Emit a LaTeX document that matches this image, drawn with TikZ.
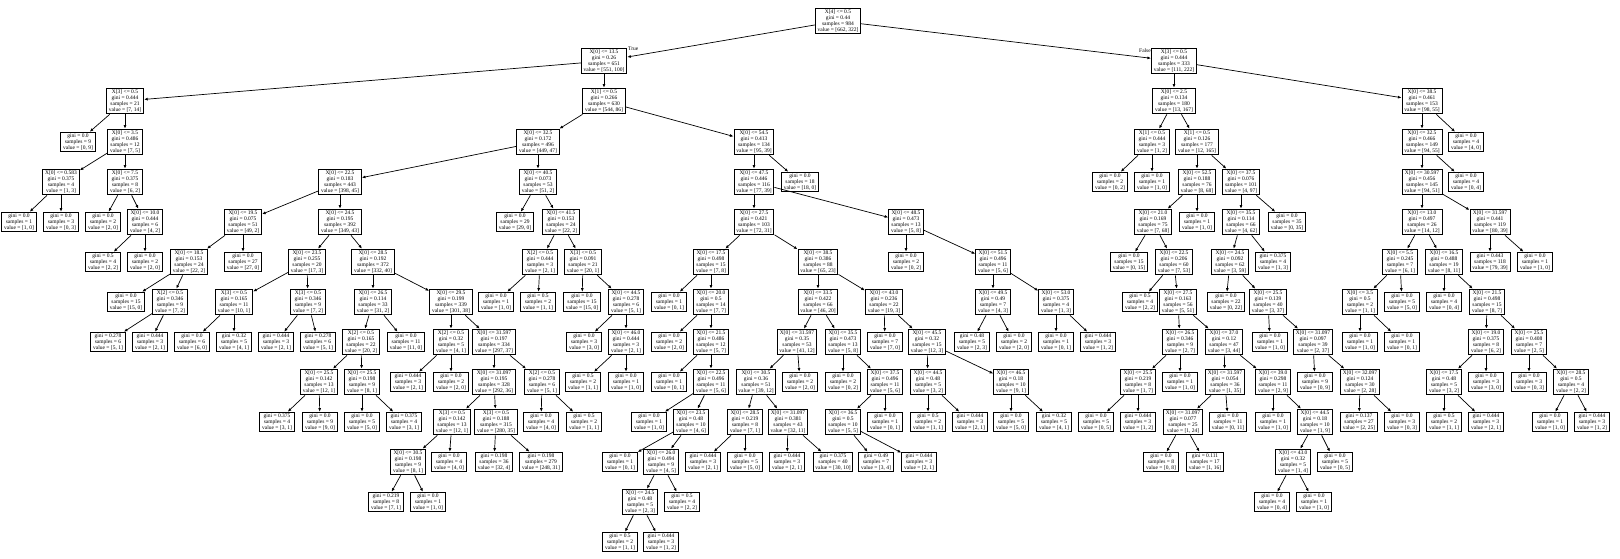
\documentclass[tikz,border=0pt]{standalone}
\usepackage{fontspec}
\setmainfont{Liberation Serif}
\usetikzlibrary{arrows.meta}

\begin{document}
\begin{tikzpicture}[x=1pt,y=-1pt]

\tikzstyle{split} = [rectangle, draw=black, line width=1pt, align=center, font=\fontsize{5.5}{6}\selectfont, inner xsep=2.4pt, inner ysep=1.5pt]
\tikzstyle{leaf} = [split]
\tikzstyle{e} = [-{Latex[length=3.6pt,width=3pt]}, line width=0.7pt]
\tikzstyle{lbl} = [font=\fontsize{5.5}{6}\selectfont, inner sep=0pt]

\useasboundingbox (0,0) rectangle (1620,558);

\node[split](n0)at(838,21){X[4] <= 0.5\\gini = 0.44\\samples = 984\\value = [662, 322]};
\node[split](n1)at(604,61){X[0] <= 13.5\\gini = 0.26\\samples = 651\\value = [551, 100]};
\node[split](n2)at(125,101){X[3] <= 0.5\\gini = 0.444\\samples = 21\\value = [7, 14]};
\node[leaf](n3)at(78,142){gini = 0.0\\samples = 9\\value = [0, 9]};
\node[split](n4)at(125,142){X[0] <= 3.5\\gini = 0.486\\samples = 12\\value = [7, 5]};
\node[split](n5)at(61,182){X[0] <= 0.583\\gini = 0.375\\samples = 4\\value = [1, 3]};
\node[leaf](n6)at(19,222){gini = 0.0\\samples = 1\\value = [1, 0]};
\node[leaf](n7)at(61,222){gini = 0.0\\samples = 3\\value = [0, 3]};
\node[split](n8)at(125,182){X[0] <= 7.5\\gini = 0.375\\samples = 8\\value = [6, 2]};
\node[leaf](n9)at(103,222){gini = 0.0\\samples = 2\\value = [2, 0]};
\node[split](n10)at(145,222){X[0] <= 10.0\\gini = 0.444\\samples = 6\\value = [4, 2]};
\node[leaf](n11)at(103,262){gini = 0.5\\samples = 4\\value = [2, 2]};
\node[leaf](n12)at(145,262){gini = 0.0\\samples = 2\\value = [2, 0]};
\node[split](n13)at(604,101){X[1] <= 0.5\\gini = 0.266\\samples = 630\\value = [544, 86]};
\node[split](n14)at(538,142){X[0] <= 32.5\\gini = 0.172\\samples = 496\\value = [449, 47]};
\node[split](n15)at(340,182){X[0] <= 22.5\\gini = 0.183\\samples = 443\\value = [398, 45]};
\node[split](n16)at(243,222){X[0] <= 19.5\\gini = 0.075\\samples = 51\\value = [49, 2]};
\node[split](n17)at(189,262){X[0] <= 18.5\\gini = 0.153\\samples = 24\\value = [22, 2]};
\node[leaf](n18)at(126,302){gini = 0.0\\samples = 15\\value = [15, 0]};
\node[split](n19)at(170,302){X[2] <= 0.5\\gini = 0.346\\samples = 9\\value = [7, 2]};
\node[leaf](n20)at(108,342){gini = 0.278\\samples = 6\\value = [5, 1]};
\node[leaf](n21)at(150,342){gini = 0.444\\samples = 3\\value = [2, 1]};
\node[leaf](n22)at(243,262){gini = 0.0\\samples = 27\\value = [27, 0]};
\node[split](n23)at(340,222){X[0] <= 24.5\\gini = 0.195\\samples = 392\\value = [349, 43]};
\node[split](n24)at(307,262){X[0] <= 23.5\\gini = 0.255\\samples = 20\\value = [17, 3]};
\node[split](n25)at(234,302){X[3] <= 0.5\\gini = 0.165\\samples = 11\\value = [10, 1]};
\node[leaf](n26)at(192,342){gini = 0.0\\samples = 6\\value = [6, 0]};
\node[leaf](n27)at(234,342){gini = 0.32\\samples = 5\\value = [4, 1]};
\node[split](n28)at(308,302){X[3] <= 0.5\\gini = 0.346\\samples = 9\\value = [7, 2]};
\node[leaf](n29)at(276,342){gini = 0.444\\samples = 3\\value = [2, 1]};
\node[leaf](n30)at(318,342){gini = 0.278\\samples = 6\\value = [5, 1]};
\node[split](n31)at(373,262){X[0] <= 28.5\\gini = 0.192\\samples = 372\\value = [332, 40]};
\node[split](n32)at(373,302){X[0] <= 26.5\\gini = 0.114\\samples = 33\\value = [31, 2]};
\node[split](n33)at(361,342){X[2] <= 0.5\\gini = 0.165\\samples = 22\\value = [20, 2]};
\node[split](n34)at(319,382){X[0] <= 25.5\\gini = 0.142\\samples = 13\\value = [12, 1]};
\node[leaf](n35)at(277,422){gini = 0.375\\samples = 4\\value = [3, 1]};
\node[leaf](n36)at(320,422){gini = 0.0\\samples = 9\\value = [9, 0]};
\node[split](n37)at(362,382){X[0] <= 25.5\\gini = 0.198\\samples = 9\\value = [8, 1]};
\node[leaf](n38)at(362,422){gini = 0.0\\samples = 5\\value = [5, 0]};
\node[leaf](n39)at(404,422){gini = 0.375\\samples = 4\\value = [3, 1]};
\node[leaf](n40)at(406,342){gini = 0.0\\samples = 11\\value = [11, 0]};
\node[split](n41)at(451,302){X[0] <= 29.5\\gini = 0.199\\samples = 339\\value = [301, 38]};
\node[split](n42)at(451,342){X[2] <= 0.5\\gini = 0.32\\samples = 5\\value = [4, 1]};
\node[leaf](n43)at(408,382){gini = 0.444\\samples = 3\\value = [2, 1]};
\node[leaf](n44)at(451,382){gini = 0.0\\samples = 2\\value = [2, 0]};
\node[split](n45)at(494,342){X[0] <= 31.597\\gini = 0.197\\samples = 334\\value = [297, 37]};
\node[split](n46)at(494,382){X[0] <= 31.097\\gini = 0.195\\samples = 328\\value = [292, 36]};
\node[split](n47)at(452,422){X[3] <= 0.5\\gini = 0.142\\samples = 13\\value = [12, 1]};
\node[split](n48)at(408,462){X[0] <= 30.5\\gini = 0.198\\samples = 9\\value = [8, 1]};
\node[leaf](n49)at(386,502){gini = 0.219\\samples = 8\\value = [7, 1]};
\node[leaf](n50)at(428,502){gini = 0.0\\samples = 1\\value = [1, 0]};
\node[leaf](n51)at(449,462){gini = 0.0\\samples = 4\\value = [4, 0]};
\node[split](n52)at(496,422){X[3] <= 0.5\\gini = 0.188\\samples = 315\\value = [280, 35]};
\node[leaf](n53)at(494,462){gini = 0.198\\samples = 36\\value = [32, 4]};
\node[leaf](n54)at(541,462){gini = 0.198\\samples = 279\\value = [248, 31]};
\node[split](n55)at(542,382){X[2] <= 0.5\\gini = 0.278\\samples = 6\\value = [5, 1]};
\node[leaf](n56)at(541,422){gini = 0.0\\samples = 4\\value = [4, 0]};
\node[leaf](n57)at(584,422){gini = 0.5\\samples = 2\\value = [1, 1]};
\node[split](n58)at(538,182){X[0] <= 40.5\\gini = 0.073\\samples = 53\\value = [51, 2]};
\node[leaf](n59)at(515,222){gini = 0.0\\samples = 29\\value = [29, 0]};
\node[split](n60)at(561,222){X[0] <= 41.5\\gini = 0.153\\samples = 24\\value = [22, 2]};
\node[split](n61)at(540,262){X[2] <= 0.5\\gini = 0.444\\samples = 3\\value = [2, 1]};
\node[leaf](n62)at(496,302){gini = 0.0\\samples = 1\\value = [1, 0]};
\node[leaf](n63)at(538,302){gini = 0.5\\samples = 2\\value = [1, 1]};
\node[split](n64)at(583,262){X[3] <= 0.5\\gini = 0.091\\samples = 21\\value = [20, 1]};
\node[leaf](n65)at(582,302){gini = 0.0\\samples = 15\\value = [15, 0]};
\node[split](n66)at(626,302){X[0] <= 44.5\\gini = 0.278\\samples = 6\\value = [5, 1]};
\node[leaf](n67)at(584,342){gini = 0.0\\samples = 3\\value = [3, 0]};
\node[split](n68)at(626,342){X[0] <= 46.0\\gini = 0.444\\samples = 3\\value = [2, 1]};
\node[leaf](n69)at(583,382){gini = 0.5\\samples = 2\\value = [1, 1]};
\node[leaf](n70)at(626,382){gini = 0.0\\samples = 1\\value = [1, 0]};
\node[split](n71)at(754,142){X[0] <= 54.5\\gini = 0.413\\samples = 134\\value = [95, 39]};
\node[split](n72)at(754,182){X[0] <= 47.5\\gini = 0.446\\samples = 116\\value = [77, 39]};
\node[split](n73)at(754,222){X[0] <= 27.5\\gini = 0.421\\samples = 103\\value = [72, 31]};
\node[split](n74)at(711,262){X[0] <= 17.5\\gini = 0.498\\samples = 15\\value = [7, 8]};
\node[leaf](n75)at(669,302){gini = 0.0\\samples = 1\\value = [0, 1]};
\node[split](n76)at(711,302){X[0] <= 20.0\\gini = 0.5\\samples = 14\\value = [7, 7]};
\node[leaf](n77)at(669,342){gini = 0.0\\samples = 2\\value = [2, 0]};
\node[split](n78)at(711,342){X[0] <= 21.5\\gini = 0.486\\samples = 12\\value = [5, 7]};
\node[leaf](n79)at(669,382){gini = 0.0\\samples = 1\\value = [0, 1]};
\node[split](n80)at(711,382){X[0] <= 22.5\\gini = 0.496\\samples = 11\\value = [5, 6]};
\node[leaf](n81)at(649,422){gini = 0.0\\samples = 1\\value = [1, 0]};
\node[split](n82)at(691,422){X[0] <= 23.5\\gini = 0.48\\samples = 10\\value = [4, 6]};
\node[leaf](n83)at(620,462){gini = 0.0\\samples = 1\\value = [0, 1]};
\node[split](n84)at(661,462){X[0] <= 26.0\\gini = 0.494\\samples = 9\\value = [4, 5]};
\node[split](n85)at(640,502){X[0] <= 24.5\\gini = 0.48\\samples = 5\\value = [2, 3]};
\node[leaf](n86)at(620,542){gini = 0.5\\samples = 2\\value = [1, 1]};
\node[leaf](n87)at(661,542){gini = 0.444\\samples = 3\\value = [1, 2]};
\node[leaf](n88)at(682,502){gini = 0.5\\samples = 4\\value = [2, 2]};
\node[split](n89)at(818,262){X[0] <= 38.5\\gini = 0.386\\samples = 88\\value = [65, 23]};
\node[split](n90)at(818,302){X[0] <= 33.5\\gini = 0.422\\samples = 66\\value = [46, 20]};
\node[split](n91)at(797,342){X[0] <= 31.597\\gini = 0.35\\samples = 53\\value = [41, 12]};
\node[split](n92)at(756,382){X[0] <= 30.5\\gini = 0.36\\samples = 51\\value = [39, 12]};
\node[split](n93)at(745,422){X[0] <= 28.5\\gini = 0.219\\samples = 8\\value = [7, 1]};
\node[leaf](n94)at(703,462){gini = 0.444\\samples = 3\\value = [2, 1]};
\node[leaf](n95)at(745,462){gini = 0.0\\samples = 5\\value = [5, 0]};
\node[split](n96)at(788,422){X[0] <= 31.097\\gini = 0.381\\samples = 43\\value = [32, 11]};
\node[leaf](n97)at(787,462){gini = 0.444\\samples = 3\\value = [2, 1]};
\node[leaf](n98)at(833,462){gini = 0.375\\samples = 40\\value = [30, 10]};
\node[leaf](n99)at(800,382){gini = 0.0\\samples = 2\\value = [2, 0]};
\node[split](n100)at(843,342){X[0] <= 35.5\\gini = 0.473\\samples = 13\\value = [5, 8]};
\node[leaf](n101)at(843,382){gini = 0.0\\samples = 2\\value = [0, 2]};
\node[split](n102)at(885,382){X[0] <= 37.5\\gini = 0.496\\samples = 11\\value = [5, 6]};
\node[split](n103)at(843,422){X[0] <= 36.5\\gini = 0.5\\samples = 10\\value = [5, 5]};
\node[leaf](n104)at(876,462){gini = 0.49\\samples = 7\\value = [3, 4]};
\node[leaf](n105)at(919,462){gini = 0.444\\samples = 3\\value = [2, 1]};
\node[leaf](n106)at(885,422){gini = 0.0\\samples = 1\\value = [0, 1]};
\node[split](n107)at(884,302){X[0] <= 43.0\\gini = 0.236\\samples = 22\\value = [19, 3]};
\node[leaf](n108)at(885,342){gini = 0.0\\samples = 7\\value = [7, 0]};
\node[split](n109)at(927,342){X[0] <= 45.5\\gini = 0.32\\samples = 15\\value = [12, 3]};
\node[split](n110)at(928,382){X[0] <= 44.5\\gini = 0.48\\samples = 5\\value = [3, 2]};
\node[leaf](n111)at(928,422){gini = 0.5\\samples = 2\\value = [1, 1]};
\node[leaf](n112)at(970,422){gini = 0.444\\samples = 3\\value = [2, 1]};
\node[split](n113)at(1011,382){X[0] <= 46.5\\gini = 0.18\\samples = 10\\value = [9, 1]};
\node[leaf](n114)at(1011,422){gini = 0.0\\samples = 5\\value = [5, 0]};
\node[leaf](n115)at(1054,422){gini = 0.32\\samples = 5\\value = [4, 1]};
\node[split](n116)at(906,222){X[0] <= 48.5\\gini = 0.473\\samples = 13\\value = [5, 8]};
\node[leaf](n117)at(906,262){gini = 0.0\\samples = 2\\value = [0, 2]};
\node[split](n118)at(993,262){X[0] <= 51.5\\gini = 0.496\\samples = 11\\value = [5, 6]};
\node[split](n119)at(993,302){X[0] <= 49.5\\gini = 0.49\\samples = 7\\value = [4, 3]};
\node[leaf](n120)at(972,342){gini = 0.48\\samples = 5\\value = [2, 3]};
\node[leaf](n121)at(1014,342){gini = 0.0\\samples = 2\\value = [2, 0]};
\node[split](n122)at(1056,302){X[0] <= 53.0\\gini = 0.375\\samples = 4\\value = [1, 3]};
\node[leaf](n123)at(1056,342){gini = 0.0\\samples = 1\\value = [0, 1]};
\node[leaf](n124)at(1098,342){gini = 0.444\\samples = 3\\value = [1, 2]};
\node[leaf](n125)at(800,182){gini = 0.0\\samples = 18\\value = [18, 0]};
\node[split](n126)at(1174,61){X[3] <= 0.5\\gini = 0.444\\samples = 333\\value = [111, 222]};
\node[split](n127)at(1174,101){X[0] <= 2.5\\gini = 0.134\\samples = 180\\value = [13, 167]};
\node[split](n128)at(1152,142){X[1] <= 0.5\\gini = 0.444\\samples = 3\\value = [1, 2]};
\node[leaf](n129)at(1110,182){gini = 0.0\\samples = 2\\value = [0, 2]};
\node[leaf](n130)at(1152,182){gini = 0.0\\samples = 1\\value = [1, 0]};
\node[split](n131)at(1197,142){X[1] <= 0.5\\gini = 0.126\\samples = 177\\value = [12, 165]};
\node[split](n132)at(1197,182){X[0] <= 52.5\\gini = 0.188\\samples = 76\\value = [8, 68]};
\node[split](n133)at(1153,222){X[0] <= 21.0\\gini = 0.169\\samples = 75\\value = [7, 68]};
\node[leaf](n134)at(1129,262){gini = 0.0\\samples = 15\\value = [0, 15]};
\node[split](n135)at(1174,262){X[0] <= 22.5\\gini = 0.206\\samples = 60\\value = [7, 53]};
\node[leaf](n136)at(1140,302){gini = 0.5\\samples = 4\\value = [2, 2]};
\node[split](n137)at(1178,302){X[0] <= 27.5\\gini = 0.163\\samples = 56\\value = [5, 51]};
\node[split](n138)at(1180,342){X[0] <= 26.5\\gini = 0.346\\samples = 9\\value = [2, 7]};
\node[split](n139)at(1138,382){X[0] <= 25.5\\gini = 0.219\\samples = 8\\value = [1, 7]};
\node[leaf](n140)at(1096,422){gini = 0.0\\samples = 5\\value = [0, 5]};
\node[leaf](n141)at(1138,422){gini = 0.444\\samples = 3\\value = [1, 2]};
\node[leaf](n142)at(1180,382){gini = 0.0\\samples = 1\\value = [1, 0]};
\node[split](n143)at(1224,342){X[0] <= 37.0\\gini = 0.12\\samples = 47\\value = [3, 44]};
\node[split](n144)at(1225,382){X[0] <= 31.597\\gini = 0.054\\samples = 36\\value = [1, 35]};
\node[split](n145)at(1183,422){X[0] <= 31.097\\gini = 0.077\\samples = 25\\value = [1, 24]};
\node[leaf](n146)at(1161,462){gini = 0.0\\samples = 8\\value = [0, 8]};
\node[leaf](n147)at(1205,462){gini = 0.111\\samples = 17\\value = [1, 16]};
\node[leaf](n148)at(1228,422){gini = 0.0\\samples = 11\\value = [0, 11]};
\node[split](n149)at(1273,382){X[0] <= 39.0\\gini = 0.298\\samples = 11\\value = [2, 9]};
\node[leaf](n150)at(1273,422){gini = 0.0\\samples = 1\\value = [1, 0]};
\node[split](n151)at(1315,422){X[0] <= 44.5\\gini = 0.18\\samples = 10\\value = [1, 9]};
\node[split](n152)at(1293,462){X[0] <= 43.0\\gini = 0.32\\samples = 5\\value = [1, 4]};
\node[leaf](n153)at(1272,502){gini = 0.0\\samples = 4\\value = [0, 4]};
\node[leaf](n154)at(1314,502){gini = 0.0\\samples = 1\\value = [1, 0]};
\node[leaf](n155)at(1335,462){gini = 0.0\\samples = 5\\value = [0, 5]};
\node[leaf](n156)at(1197,222){gini = 0.0\\samples = 1\\value = [1, 0]};
\node[split](n157)at(1241,182){X[0] <= 37.5\\gini = 0.076\\samples = 101\\value = [4, 97]};
\node[split](n158)at(1241,222){X[0] <= 35.5\\gini = 0.114\\samples = 66\\value = [4, 62]};
\node[split](n159)at(1230,262){X[0] <= 24.5\\gini = 0.092\\samples = 62\\value = [3, 59]};
\node[leaf](n160)at(1226,302){gini = 0.0\\samples = 22\\value = [0, 22]};
\node[split](n161)at(1268,302){X[0] <= 25.5\\gini = 0.139\\samples = 40\\value = [3, 37]};
\node[leaf](n162)at(1270,342){gini = 0.0\\samples = 1\\value = [1, 0]};
\node[split](n163)at(1313,342){X[0] <= 31.097\\gini = 0.097\\samples = 39\\value = [2, 37]};
\node[leaf](n164)at(1315,382){gini = 0.0\\samples = 9\\value = [0, 9]};
\node[split](n165)at(1360,382){X[0] <= 32.097\\gini = 0.124\\samples = 30\\value = [2, 28]};
\node[leaf](n166)at(1359,422){gini = 0.137\\samples = 27\\value = [2, 25]};
\node[leaf](n167)at(1402,422){gini = 0.0\\samples = 3\\value = [0, 3]};
\node[leaf](n168)at(1273,262){gini = 0.375\\samples = 4\\value = [1, 3]};
\node[leaf](n169)at(1287,222){gini = 0.0\\samples = 35\\value = [0, 35]};
\node[split](n170)at(1422,101){X[0] <= 38.5\\gini = 0.461\\samples = 153\\value = [98, 55]};
\node[split](n171)at(1422,142){X[0] <= 32.5\\gini = 0.466\\samples = 149\\value = [94, 55]};
\node[split](n172)at(1422,182){X[0] <= 30.597\\gini = 0.456\\samples = 145\\value = [94, 51]};
\node[split](n173)at(1422,222){X[0] <= 13.0\\gini = 0.497\\samples = 26\\value = [14, 12]};
\node[split](n174)at(1400,262){X[0] <= 5.5\\gini = 0.245\\samples = 7\\value = [6, 1]};
\node[split](n175)at(1360,302){X[0] <= 3.5\\gini = 0.5\\samples = 2\\value = [1, 1]};
\node[leaf](n176)at(1360,342){gini = 0.0\\samples = 1\\value = [1, 0]};
\node[leaf](n177)at(1402,342){gini = 0.0\\samples = 1\\value = [0, 1]};
\node[leaf](n178)at(1402,302){gini = 0.0\\samples = 5\\value = [5, 0]};
\node[split](n179)at(1444,262){X[0] <= 16.5\\gini = 0.488\\samples = 19\\value = [8, 11]};
\node[leaf](n180)at(1444,302){gini = 0.0\\samples = 4\\value = [0, 4]};
\node[split](n181)at(1487,302){X[0] <= 21.5\\gini = 0.498\\samples = 15\\value = [8, 7]};
\node[split](n182)at(1486,342){X[0] <= 19.0\\gini = 0.375\\samples = 8\\value = [6, 2]};
\node[split](n183)at(1444,382){X[0] <= 17.5\\gini = 0.48\\samples = 5\\value = [3, 2]};
\node[leaf](n184)at(1444,422){gini = 0.5\\samples = 2\\value = [1, 1]};
\node[leaf](n185)at(1486,422){gini = 0.444\\samples = 3\\value = [2, 1]};
\node[leaf](n186)at(1486,382){gini = 0.0\\samples = 3\\value = [3, 0]};
\node[split](n187)at(1529,342){X[0] <= 25.5\\gini = 0.408\\samples = 7\\value = [2, 5]};
\node[leaf](n188)at(1529,382){gini = 0.0\\samples = 3\\value = [0, 3]};
\node[split](n189)at(1571,382){X[0] <= 28.5\\gini = 0.5\\samples = 4\\value = [2, 2]};
\node[leaf](n190)at(1550,422){gini = 0.0\\samples = 1\\value = [1, 0]};
\node[leaf](n191)at(1592,422){gini = 0.444\\samples = 3\\value = [1, 2]};
\node[split](n192)at(1490,222){X[0] <= 31.597\\gini = 0.441\\samples = 119\\value = [80, 39]};
\node[leaf](n193)at(1490,262){gini = 0.443\\samples = 118\\value = [79, 39]};
\node[leaf](n194)at(1535,262){gini = 0.0\\samples = 1\\value = [1, 0]};
\node[leaf](n195)at(1466,182){gini = 0.0\\samples = 4\\value = [0, 4]};
\node[leaf](n196)at(1466,142){gini = 0.0\\samples = 4\\value = [4, 0]};

\node[lbl, anchor=west](true)at(628,49){True};
\node[lbl, anchor=east](false)at(1151,51){False};

\foreach \p/\c in {n0/n1, n0/n126, n1/n2, n1/n13, n2/n3, n2/n4, n4/n5, n4/n8, n5/n6, n5/n7,
  n8/n9, n8/n10, n10/n11, n10/n12, n13/n14, n13/n71, n14/n15, n14/n58, n15/n16, n15/n23,
  n16/n17, n16/n22, n17/n18, n17/n19, n19/n20, n19/n21, n23/n24, n23/n31, n24/n25, n24/n28,
  n25/n26, n25/n27, n28/n29, n28/n30, n31/n32, n31/n41, n32/n33, n32/n40, n33/n34, n33/n37,
  n34/n35, n34/n36, n37/n38, n37/n39, n41/n42, n41/n45, n42/n43, n42/n44, n45/n46, n45/n55,
  n46/n47, n46/n52, n47/n48, n47/n51, n48/n49, n48/n50, n52/n53, n52/n54, n55/n56, n55/n57,
  n58/n59, n58/n60, n60/n61, n60/n64, n61/n62, n61/n63, n64/n65, n64/n66, n66/n67, n66/n68,
  n68/n69, n68/n70, n71/n72, n71/n125, n72/n73, n72/n116, n73/n74, n73/n89, n74/n75, n74/n76,
  n76/n77, n76/n78, n78/n79, n78/n80, n80/n81, n80/n82, n82/n83, n82/n84, n84/n85, n84/n88,
  n85/n86, n85/n87, n89/n90, n89/n107, n90/n91, n90/n100, n91/n92, n91/n99, n92/n93, n92/n96,
  n93/n94, n93/n95, n96/n97, n96/n98, n100/n101, n100/n102, n102/n103, n102/n106, n103/n104, n103/n105,
  n107/n108, n107/n109, n109/n110, n109/n113, n110/n111, n110/n112, n113/n114, n113/n115,
  n116/n117, n116/n118, n118/n119, n118/n122, n119/n120, n119/n121, n122/n123, n122/n124,
  n126/n127, n126/n170, n127/n128, n127/n131, n128/n129, n128/n130, n131/n132, n131/n157,
  n132/n133, n132/n156, n133/n134, n133/n135, n135/n136, n135/n137, n137/n138, n137/n143,
  n138/n139, n138/n142, n139/n140, n139/n141, n143/n144, n143/n149, n144/n145, n144/n148,
  n145/n146, n145/n147, n149/n150, n149/n151, n151/n152, n151/n155, n152/n153, n152/n154,
  n157/n158, n157/n169, n158/n159, n158/n168, n159/n160, n159/n161, n161/n162, n161/n163,
  n163/n164, n163/n165, n165/n166, n165/n167, n170/n171, n170/n196, n171/n172, n171/n195,
  n172/n173, n172/n192, n173/n174, n173/n179, n174/n175, n174/n178, n175/n176, n175/n177,
  n179/n180, n179/n181, n181/n182, n181/n187, n182/n183, n182/n186, n183/n184, n183/n185,
  n187/n188, n187/n189, n189/n190, n189/n191, n192/n193, n192/n194}
  \draw[e](\p) -- (\c);

\end{tikzpicture}
\end{document}
